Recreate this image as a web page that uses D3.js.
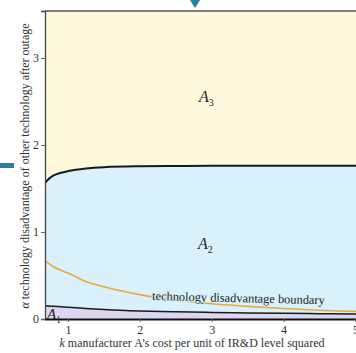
<!DOCTYPE html>
<html>
  <head>
    <script src="https://cdn.jsdelivr.net/npm/d3@7"></script>
    <style>
      body { margin: 0; background: #fff; }
      text { font-family: "Liberation Serif", "DejaVu Serif", serif; }
    </style>
  </head>
  <body>
    <svg id="chart" width="356" height="353"></svg>
    <script>
    // k values and the three boundary curves
    var kValues = [0.68, 0.72, 0.8, 0.9, 1, 1.25, 1.5, 2, 2.5, 3, 3.5, 4, 4.5, 5, 5.3];
    var lowerBoundary = [0.152, 0.15, 0.146, 0.14, 0.135, 0.122, 0.11, 0.093, 0.083, 0.076, 0.07, 0.065, 0.061, 0.057, 0.055];
    var techBoundary = [0.67, 0.645, 0.6, 0.56, 0.53, 0.43, 0.37, 0.28, 0.22, 0.175, 0.145, 0.12, 0.10, 0.088, 0.082];
    var upperBoundary = [1.56, 1.6, 1.65, 1.68, 1.70, 1.73, 1.745, 1.755, 1.758, 1.76, 1.76, 1.76, 1.76, 1.76, 1.76];
    var xTicks = [1, 2, 3, 4, 5];
    var yTicks = [0, 1, 2, 3];
    var alphaMax = 3.54;

    var svg = d3.select("#chart");
    var x = d3.scaleLinear().domain([0.68, 5.3]).range([45, 377]);
    var y = d3.scaleLinear().domain([0, alphaMax]).range([319, 11]);

    var rows = kValues.map(function(k, i){
      return {k: k, lo: lowerBoundary[i], tech: techBoundary[i], up: upperBoundary[i]};
    });

    svg.append("defs").append("clipPath").attr("id", "plotClip")
      .append("rect").attr("x", 45).attr("y", 11).attr("width", 332).attr("height", 308);

    var plot = svg.append("g").attr("clip-path", "url(#plotClip)");

    // A3 region (whole background)
    plot.append("rect").attr("x", 45).attr("y", y(alphaMax)).attr("width", 332).attr("height", y(0) - y(alphaMax))
      .attr("fill", "#fef9dc");

    // A2 region
    plot.append("path").datum(rows)
      .attr("d", d3.area().x(function(d){ return x(d.k); }).y0(y(0)).y1(function(d){ return y(d.up); }).curve(d3.curveMonotoneX))
      .attr("fill", "#d9f1fc");

    // A1 region
    plot.append("path").datum(rows)
      .attr("d", d3.area().x(function(d){ return x(d.k); }).y0(y(0)).y1(function(d){ return y(d.lo); }).curve(d3.curveMonotoneX))
      .attr("fill", "#dcd7ee");

    var line = function(key){
      return d3.line().x(function(d){ return x(d.k); }).y(function(d){ return y(d[key]); }).curve(d3.curveMonotoneX);
    };

    plot.append("path").datum(rows).attr("d", line("tech"))
      .attr("fill", "none").attr("stroke", "#e9a93a").attr("stroke-width", 1.6);
    plot.append("path").datum(rows).attr("d", line("lo"))
      .attr("fill", "none").attr("stroke", "#1a1a1a").attr("stroke-width", 1.5);
    plot.append("path").datum(rows).attr("d", line("up"))
      .attr("fill", "none").attr("stroke", "#1a1a1a").attr("stroke-width", 2);

    // top frame
    svg.append("line").attr("x1", 45).attr("x2", 356).attr("y1", 11).attr("y2", 11)
      .attr("stroke", "#555").attr("stroke-width", 1.5);

    // axes
    var yAxis = svg.append("g").attr("transform", "translate(45,0)")
      .call(d3.axisLeft(y).tickValues(yTicks).tickSize(4).tickPadding(2).tickFormat(d3.format("d")));
    yAxis.select(".domain").attr("stroke", "#444").attr("stroke-width", 1.3);
    yAxis.selectAll(".tick line").attr("stroke", "#666");
    yAxis.selectAll("text").attr("font-size", 12).attr("fill", "#333");

    var xAxis = svg.append("g").attr("transform", "translate(0," + y(0) + ")")
      .call(d3.axisBottom(x).tickValues(xTicks).tickSize(3).tickPadding(3).tickSizeOuter(0).tickFormat(d3.format("d")));
    xAxis.select(".domain").attr("stroke", "#111").attr("stroke-width", 2);
    xAxis.selectAll(".tick line").attr("stroke", "#666");
    xAxis.selectAll("text").attr("font-size", 12).attr("fill", "#333");

    // region labels
    function regionLabel(px, py, sub, size){
      var t = svg.append("text").attr("x", px).attr("y", py).attr("font-size", size)
        .attr("font-style", "italic").attr("fill", "#222");
      t.append("tspan").text("A");
      t.append("tspan").attr("font-size", size * 0.62).attr("font-style", "normal").attr("dy", size * 0.25).text(sub);
    }
    regionLabel(199, 102, "3", 16);
    regionLabel(198, 249, "2", 16);
    regionLabel(47, 319, "1", 15);

    svg.append("text")
      .attr("transform", "translate(152,300) rotate(1.4)")
      .attr("font-size", 12.4).attr("fill", "#222")
      .attr("stroke", "#d9f1fc").attr("stroke-width", 2).attr("paint-order", "stroke")
      .text("technology disadvantage boundary");

    // axis titles
    var yt = svg.append("text")
      .attr("transform", "translate(29,166) rotate(-90)")
      .attr("text-anchor", "middle").attr("font-size", 12).attr("fill", "#333");
    yt.append("tspan").attr("font-style", "italic").text("α");
    yt.append("tspan").text(" technology disadvantage of other technology after outage");

    var xt = svg.append("text")
      .attr("x", 192).attr("y", 347)
      .attr("text-anchor", "middle").attr("font-size", 12).attr("fill", "#333");
    xt.append("tspan").attr("font-style", "italic").text("k");
    xt.append("tspan").text(" manufacturer A’s cost per unit of IR&D level squared");

    // page decorations
    svg.append("path").attr("d", "M190,0 L200,0 L195,8 Z").attr("fill", "#2a7f9a");
    svg.append("rect").attr("x", 0).attr("y", 163).attr("width", 14).attr("height", 5).attr("fill", "#2a7f9a");
    </script>
  </body>
</html>
